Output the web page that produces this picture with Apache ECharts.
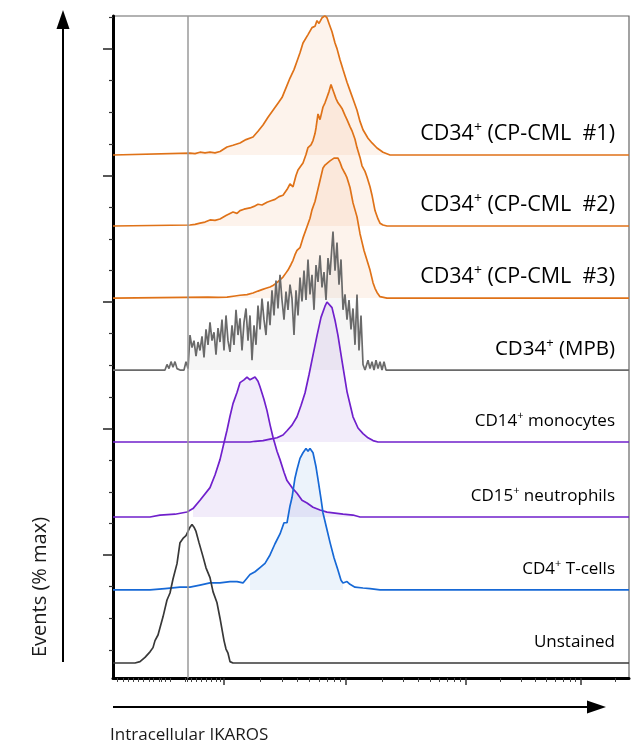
<!DOCTYPE html>
<html><head><meta charset="utf-8">
<script src="https://cdn.jsdelivr.net/npm/echarts@6/dist/echarts.min.js"></script>
<style>html,body{margin:0;padding:0;background:#fff}#c{width:631px;height:749px}</style>
</head><body><div id="c"></div>
<script>
// ---- data: x = channel, y = % of max ----
const names = ['CD34+ (CP-CML #1)','CD34+ (CP-CML #2)','CD34+ (CP-CML #3)','CD34+ (MPB)','CD14+ monocytes','CD15+ neutrophils','CD4+ T-cells','Unstained'];
const labels = ['{b|CD34}{bs|+}{b| (CP-CML  #1)}','{b|CD34}{bs|+}{b| (CP-CML  #2)}','{b|CD34}{bs|+}{b| (CP-CML  #3)}','{m|CD34}{ms|+}{m| (MPB)}','{n|CD14}{s|+}{n| monocytes}','{n|CD15}{s|+}{n| neutrophils}','{n|CD4}{s|+}{n| T-cells}','{n|Unstained}'];
const offsets = [373.6, 322.9, 271.4, 220, 168.6, 115, 62.9, 10.7];
const gateChannel = 150;
const fillRanges = [[150,1032],[150,1032],[150,1032],[150,1032],[150,1032],[150,1032],[274,460],null];

const cml1 = [[0,0],[154,1.4],[164,1],[174,2],[184,1.5],[194,2],[204,1.5],[214,2.5],[228,5.7],[240,7],[254,8.6],[266,11],[280,12.9],[290,17],[300,21.4],[310,27],[320,32],[330,37],[338,41],[346,48],[354,55],[362,61],[368,67],[374,73],[380,80],[390,86],[398,91],[404,92],[408,96],[412,94],[418,98],[424,99.5],[428,98],[432,94],[438,88],[444,80],[448,76],[454,68],[460,61],[468,52],[474,46],[482,38],[488,32],[494,24],[500,18],[510,12],[518,8.6],[528,5],[540,2],[554,0],[1032,0]];
const cml2 = [[0,0],[154,0.7],[164,1.2],[174,2],[184,2.8],[194,4.3],[204,4],[214,5],[226,7.5],[240,10],[248,9],[254,11],[262,12],[274,12.9],[282,14],[290,15.5],[298,15],[308,17],[316,18],[324,19],[332,21],[340,22],[348,26],[354,30],[360,28],[366,36],[370,40],[376,43],[380,45],[386,51],[390,56],[396,58],[400,61],[404,66],[406,70],[410,80],[414,76],[416,77],[420,85],[424,88],[428,92],[432,96],[436,101],[440,97],[442,95],[446,91],[450,88],[454,86],[458,84],[464,79],[468,76],[474,71],[478,68],[484,62],[488,56],[494,49],[498,43],[504,39],[508,35],[514,28],[518,22],[524,11],[530,5],[534,2],[540,0.7],[548,0],[1032,0]];
const cml3 = [[0,0],[190,0.7],[210,0.5],[228,0.7],[244,1.5],[254,2],[268,2.5],[280,3.6],[290,5],[298,6],[306,7],[314,7.9],[320,9],[328,11],[334,13],[340,15],[346,18],[350,20],[356,24],[360,27],[364,31],[368,34],[374,36],[380,43],[388,51],[394,57],[398,63],[404,69],[408,75],[414,84],[420,93],[424,95],[428,96],[434,98],[438,99],[442,100],[446,99],[450,100],[454,97],[458,93],[464,89],[468,86],[474,79],[480,68],[484,63],[488,58],[494,46],[498,40],[502,34],[508,27],[514,20],[520,11],[524,7],[528,4],[534,1],[548,0],[1032,0]];
const mpb = [[0,0],[94,0],[104,0],[108,4],[112,1],[116,6],[120,2],[124,6],[128,1],[134,0],[142,0],[146,6],[150,1],[154,25],[158,16],[162,21],[166,10],[170,20],[174,14],[178,24],[182,9],[186,29],[190,18],[194,34],[198,21],[202,27],[206,11],[210,30],[214,20],[218,36],[222,14],[226,39],[230,21],[234,13],[238,32],[242,18],[246,43],[250,25],[254,37],[258,14],[262,34],[266,44],[270,21],[274,39],[278,7],[282,32],[286,18],[290,46],[294,29],[298,51],[302,36],[306,25],[310,49],[314,32],[318,57],[322,39],[326,64],[330,44],[334,68],[338,50],[342,36],[346,56],[350,43],[354,61],[358,51],[362,25],[366,57],[370,39],[374,66],[378,49],[382,71],[386,50],[390,79],[394,54],[398,68],[402,43],[406,75],[410,63],[414,82],[418,59],[422,70],[426,50],[430,80],[434,68],[438,89],[440,99],[444,71],[448,91],[452,61],[456,79],[460,43],[464,54],[468,36],[472,50],[476,29],[480,44],[484,18],[488,54],[492,14],[496,39],[500,4],[504,0],[510,7],[514,1],[518,6],[522,0],[526,7],[530,1],[534,6],[538,0],[542,6],[546,0],[554,0],[1032,0]];
const cd14 = [[0,0],[274,0],[284,0.5],[300,1],[314,2],[328,3],[340,5],[348,8],[358,12],[368,18],[376,26],[384,35],[392,48],[400,62],[408,76],[416,89],[424,97],[428,100],[432,99],[438,96],[444,87],[450,76],[458,58],[468,36],[474,27],[480,18],[490,10],[500,6],[510,3],[520,1],[530,0],[1032,0]];
const cd15 = [[0,0],[74,0],[94,1.4],[124,2],[148,3.6],[160,6],[174,12],[194,21],[204,30],[214,41],[222,53],[228,62],[234,72],[240,81],[248,89],[254,96],[262,98],[268,100],[274,98],[278,99],[284,100],[290,97],[294,93],[302,84],[308,76],[314,66],[320,57],[328,47],[334,41],[342,32],[348,26],[358,21],[368,17],[378,12],[388,10],[400,7],[414,5],[428,3.5],[440,3],[460,2],[480,1.4],[494,0],[1032,0]];
const cd4 = [[0,0],[74,0],[104,1],[134,2],[154,2],[174,3.5],[194,5],[214,5],[234,6],[248,6],[260,5],[274,11],[284,13],[294,16],[304,19],[314,25],[324,33],[334,40],[342,48],[348,48],[354,60],[358,66],[364,80],[368,86],[374,94],[380,98],[386,101],[390,99],[394,101],[400,98],[406,88],[410,79],[416,65],[420,55],[428,43],[434,34],[442,23],[450,14],[456,7],[460,5],[468,6],[474,4],[484,2],[500,1.4],[514,1],[534,0],[1032,0]];
const unstained = [[0,0],[44,0],[54,1],[64,4],[74,8],[80,11],[84,16],[90,20],[94,21],[100,33],[108,45],[114,50],[120,60],[128,71],[134,86],[140,89],[146,91],[150,94],[154,97],[158,99],[162,97],[166,94],[172,86],[180,76],[186,68],[194,61],[200,51],[208,43],[214,32],[218,24],[222,16],[226,10],[230,7],[234,1],[240,0],[1032,0]];
const curves = [cml1, cml2, cml3, mpb, cd14, cd15, cd4, unstained];

// axis tick values
const xDecadeTicks = [222, 466, 706, 936];
const xLeftTicks = [8, 20, 31, 41, 51, 61, 72, 81, 92, 97, 104, 114, 144, 149, 157, 167, 177, 187, 197, 207, 215];

// ---- styles ----
const lineColors = ['#DF7218','#DF7218','#DF7218','#6A6A6A','#7020CC','#7020CC','#1769D6','#383838'];
const fillColors = ['rgba(238,150,90,0.17)','rgba(238,150,90,0.17)','rgba(238,150,90,0.17)','rgba(150,150,150,0.13)','rgba(150,100,215,0.18)','rgba(150,100,215,0.18)','rgba(90,150,225,0.17)',null];
const FONT = '"Open Sans", sans-serif';

const xMinor = xLeftTicks.slice();
for (let d = 0; d < xDecadeTicks.length; d++) {
  const a = xDecadeTicks[d];
  const w = d < xDecadeTicks.length - 1 ? xDecadeTicks[d+1] - a : a - xDecadeTicks[d-1];
  for (let k = 2; k <= 9; k++) { const v = a + w * Math.log10(k); if (v <= 1032) xMinor.push(v); }
}
const yMajor = [], yMinor = [];
for (let i = 0; i < 5; i++) {
  const m = 449.3 - 90.36 * i; yMajor.push(m);
  for (let j = 1; j <= 3; j++) { const v = m - 22.59 * j; if (v > 0) yMinor.push(v); }
}
yMinor.push(449.3 + 22.59);

const chart = echarts.init(document.getElementById('c'), null, {renderer: 'canvas'});
const series = [];
curves.forEach((c, i) => {
  const off = offsets[i];
  const r = fillRanges[i];
  if (r) {
    series.push({
      type: 'line', name: names[i] + ' fill', data: c.filter(p => p[0] >= r[0] && p[0] <= r[1]).map(p => [p[0], off + p[1]]),
      symbol: 'none', lineStyle: {width: 0, opacity: 0}, areaStyle: {color: fillColors[i], origin: off}, z: 1, silent: true, animation: false
    });
  }
});
curves.forEach((c, i) => {
  series.push({
    type: 'line', name: names[i], data: c.map(p => [p[0], offsets[i] + p[1]]),
    symbol: 'none', lineStyle: {color: lineColors[i], width: 1.7}, z: 3, silent: true, animation: false
  });
});
series.push({type: 'line', data: [], symbol: 'none', z: 2, animation: false,
  markLine: {silent: true, symbol: ['none','none'], label: {show: false}, lineStyle: {color: '#9a9a9a', width: 1.5, type: 'solid'}, data: [{xAxis: gateChannel}]}});

chart.setOption({
  animation: false,
  grid: {left: 113, right: 2, top: 16, bottom: 71, show: true, borderColor: '#666', borderWidth: 1.2},
  xAxis: [
    {type: 'value', min: 0, max: 1032, position: 'bottom', axisLine: {show: true, lineStyle: {color: '#000', width: 3}},
     axisTick: {show: true, customValues: xDecadeTicks, length: 7, lineStyle: {color: '#333', width: 1.5}}, axisLabel: {show: false}, splitLine: {show: false}},
    {type: 'value', min: 0, max: 1032, position: 'bottom', axisLine: {show: false},
     axisTick: {show: true, customValues: xMinor, length: 4, lineStyle: {color: '#444', width: 1}}, axisLabel: {show: false}, splitLine: {show: false}}
  ],
  yAxis: [
    {type: 'value', min: 0, max: 472.9, position: 'left', axisLine: {show: true, lineStyle: {color: '#000', width: 3}},
     axisTick: {show: true, customValues: yMajor, length: 10, lineStyle: {color: '#222', width: 1.5}}, axisLabel: {show: false}, splitLine: {show: false}},
    {type: 'value', min: 0, max: 472.9, position: 'left', axisLine: {show: false},
     axisTick: {show: true, customValues: yMinor, length: 4, lineStyle: {color: '#333', width: 1.2}}, axisLabel: {show: false}, splitLine: {show: false}}
  ],
  series: series
});

const rich = {
  n: {fontFamily: FONT, fontSize: 17, color: '#1a1a1a', lineHeight: 22},
  s: {fontFamily: FONT, fontSize: 11, color: '#1a1a1a', lineHeight: 12, verticalAlign: 'top'},
  b: {fontFamily: FONT, fontSize: 21.5, color: '#1a1a1a', lineHeight: 26},
  bs: {fontFamily: FONT, fontSize: 14, color: '#1a1a1a', lineHeight: 14, verticalAlign: 'top'},
  m: {fontFamily: FONT, fontSize: 20.5, color: '#1a1a1a', lineHeight: 25},
  ms: {fontFamily: FONT, fontSize: 13, color: '#1a1a1a', lineHeight: 13, verticalAlign: 'top'}
};
const graphics = [];
offsets.forEach((off, i) => {
  const p = chart.convertToPixel({xAxisIndex: 0, yAxisIndex: 0}, [1032, off]);
  graphics.push({type: 'text', x: p[0] - 14, y: p[1] - 21, style: {text: labels[i], rich: rich, align: 'right', verticalAlign: 'middle'}, z: 10});
});
graphics.push(
  {type: 'line', shape: {x1: 63, y1: 662, x2: 63, y2: 26}, style: {stroke: '#000', lineWidth: 2}},
  {type: 'polygon', shape: {points: [[63, 10], [56.5, 29], [69.5, 29]]}, style: {fill: '#000'}},
  {type: 'line', shape: {x1: 113, y1: 707, x2: 590, y2: 707}, style: {stroke: '#000', lineWidth: 2}},
  {type: 'polygon', shape: {points: [[606, 707], [587, 700.5], [587, 713.5]]}, style: {fill: '#000'}},
  {type: 'text', x: 40, y: 587, rotation: Math.PI / 2, style: {text: 'Events (% max)', fontFamily: FONT, fontSize: 20, fill: '#1a1a1a', align: 'center', verticalAlign: 'middle'}},
  {type: 'text', x: 110, y: 735, style: {text: 'Intracellular IKAROS', fontFamily: FONT, fontSize: 17, fill: '#1a1a1a', align: 'left', verticalAlign: 'middle'}}
);
chart.setOption({graphic: graphics});
</script></body></html>
